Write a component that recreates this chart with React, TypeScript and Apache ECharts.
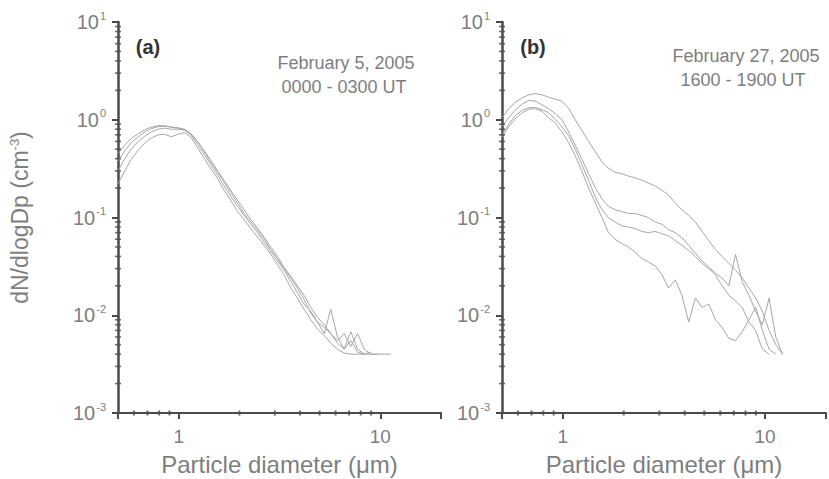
import React, { useEffect, useRef } from "react";
import * as echarts from "echarts";

const diameters = [0.5, 0.54, 0.58, 0.63, 0.68, 0.73, 0.79, 0.85, 0.92, 0.99, 1.07, 1.15, 1.24, 1.34, 1.45, 1.56, 1.68, 1.81, 1.96, 2.11, 2.28, 2.46, 2.65, 2.86, 3.09, 3.33, 3.6, 3.88, 4.19, 4.52, 4.88, 5.27, 5.68, 6.13, 6.62, 7.14, 7.71, 8.32, 8.98, 9.69, 10.46, 11.29, 12.18];

// Panel (a): February 5, 2005, 0000 - 0300 UT
const a1 = [0.22, 0.30, 0.39, 0.49, 0.58, 0.65, 0.70, 0.71, 0.67, 0.71, 0.74, 0.66, 0.52, 0.40, 0.31, 0.25, 0.19, 0.15, 0.115, 0.095, 0.077, 0.063, 0.052, 0.042, 0.033, 0.026, 0.019, 0.015, 0.0115, 0.009, 0.0072, 0.0062, 0.0052, 0.0045, 0.0041, 0.004, 0.004, 0.004, 0.004, 0.004, 0.004, 0.004, null];
const a2 = [0.30, 0.40, 0.50, 0.60, 0.68, 0.75, 0.80, 0.82, 0.80, 0.80, 0.79, 0.70, 0.56, 0.44, 0.34, 0.27, 0.21, 0.165, 0.13, 0.105, 0.085, 0.07, 0.056, 0.045, 0.036, 0.029, 0.022, 0.017, 0.013, 0.011, 0.0085, 0.0075, 0.0065, 0.0052, 0.0045, 0.0055, 0.0042, 0.004, null, null, null, null, null];
const a3 = [0.38, 0.48, 0.58, 0.67, 0.75, 0.81, 0.85, 0.86, 0.84, 0.83, 0.80, 0.72, 0.60, 0.47, 0.36, 0.29, 0.23, 0.18, 0.14, 0.11, 0.09, 0.074, 0.06, 0.047, 0.038, 0.03, 0.024, 0.019, 0.0145, 0.0105, 0.0085, 0.0065, 0.0115, 0.006, 0.0045, 0.0068, 0.0045, 0.004, 0.0042, null, null, null, null];
const a4 = [0.45, 0.55, 0.64, 0.72, 0.79, 0.84, 0.87, 0.87, 0.84, 0.82, 0.78, 0.71, 0.60, 0.48, 0.38, 0.30, 0.24, 0.19, 0.15, 0.12, 0.095, 0.078, 0.063, 0.05, 0.04, 0.031, 0.025, 0.020, 0.016, 0.012, 0.0095, 0.008, 0.0065, 0.0055, 0.0065, 0.0048, 0.0065, 0.0045, 0.004, 0.004, null, null, null];

// Panel (b): February 27, 2005, 1600 - 1900 UT
const b1 = [1.05, 1.3, 1.5, 1.68, 1.8, 1.85, 1.8, 1.7, 1.62, 1.55, 1.3, 1.0, 0.78, 0.6, 0.47, 0.37, 0.32, 0.29, 0.28, 0.265, 0.255, 0.24, 0.225, 0.21, 0.19, 0.17, 0.14, 0.12, 0.105, 0.09, 0.072, 0.058, 0.047, 0.04, 0.034, 0.029, 0.024, 0.019, 0.015, 0.011, 0.007, 0.005, 0.004];
const b2 = [0.85, 1.05, 1.25, 1.45, 1.58, 1.55, 1.42, 1.3, 1.15, 1.0, 0.75, 0.55, 0.4, 0.28, 0.2, 0.155, 0.13, 0.12, 0.115, 0.11, 0.11, 0.105, 0.1, 0.09, 0.085, 0.075, 0.07, 0.062, 0.052, 0.043, 0.036, 0.031, 0.027, 0.024, 0.02, 0.042, 0.022, 0.016, 0.011, 0.008, 0.015, 0.006, 0.004];
const b3 = [0.7, 0.9, 1.1, 1.25, 1.33, 1.33, 1.27, 1.18, 1.0, 0.85, 0.68, 0.5, 0.35, 0.24, 0.16, 0.12, 0.1, 0.09, 0.082, 0.08, 0.077, 0.072, 0.07, 0.072, 0.068, 0.065, 0.058, 0.052, 0.046, 0.04, 0.034, 0.03, 0.026, 0.02, 0.016, 0.014, 0.012, 0.0085, 0.007, 0.0045, 0.004, null, null];
const b4 = [0.66, 0.85, 1.02, 1.18, 1.28, 1.3, 1.22, 1.05, 0.92, 0.75, 0.58, 0.43, 0.3, 0.2, 0.14, 0.1, 0.07, 0.06, 0.054, 0.05, 0.044, 0.038, 0.035, 0.032, 0.026, 0.019, 0.023, 0.016, 0.0085, 0.015, 0.012, 0.013, 0.009, 0.0075, 0.0058, 0.0055, 0.0068, 0.009, 0.012, 0.007, 0.0045, 0.004, null];

const panelA = [a1, a2, a3, a4];
const panelB = [b1, b2, b3, b4];

const xMinorTicks = [0.6, 0.7, 0.8, 0.9, 2, 3, 4, 5, 6, 7, 8, 9];
const yMinorTicks = [0.002, 0.003, 0.004, 0.005, 0.006, 0.007, 0.008, 0.009, 0.02, 0.03, 0.04, 0.05, 0.06, 0.07, 0.08, 0.09, 0.2, 0.3, 0.4, 0.5, 0.6, 0.7, 0.8, 0.9, 2, 3, 4, 5, 6, 7, 8, 9];

const X_MIN = 0.5;
const X_MAX = 20;
const Y_MIN = 0.001;
const Y_MAX = 10;

const FONT = "Liberation Sans, Arial, sans-serif";
const AXIS_COLOR = "#4a4a4a";
const TEXT_GREY = "#7e7e7e";
const LINE_GREY = "#a6a6a6";

function isDecade(v: number) {
  const l = Math.log10(v);
  return Math.abs(l - Math.round(l)) < 1e-6;
}

export default function App() {
  const ref = useRef<HTMLDivElement>(null);
  useEffect(() => {
    if (!ref.current) return;
    const chart = echarts.init(ref.current, null, { renderer: "svg" });

    const grids = [
      { left: 118, top: 22, width: 323, height: 391, outerBoundsMode: "none", containLabel: false },
      { left: 502, top: 22, width: 324, height: 391, outerBoundsMode: "none", containLabel: false },
    ];

    const xAxes = [0, 1].map((i) => ({
      type: "log",
      logBase: 10,
      gridIndex: i,
      min: X_MIN,
      max: X_MAX,
      name: "Particle diameter (\u03bcm)",
      nameLocation: "middle",
      nameGap: 39,
      nameTextStyle: { fontFamily: FONT, fontSize: 24, color: TEXT_GREY },
      axisLine: { show: true, lineStyle: { color: AXIS_COLOR, width: 2 } },
      axisTick: { show: true, inside: false, length: 6, lineStyle: { color: AXIS_COLOR, width: 2 } },
      axisLabel: {
        fontFamily: FONT,
        fontSize: 19,
        color: TEXT_GREY,
        margin: 14,
        showMinLabel: true,
        showMaxLabel: true,
        formatter: (v: number) => (isDecade(v) ? String(Math.round(v)) : ""),
      },
      splitLine: { show: false },
    }));

    const yAxes = [0, 1].map((i) => ({
      type: "log",
      logBase: 10,
      gridIndex: i,
      min: Y_MIN,
      max: Y_MAX,
      name: i === 0 ? "dN/dlogDp (cm{s|-3})" : "",
      nameLocation: "middle",
      nameGap: 86,
      nameRotate: 90,
      nameTextStyle: {
        fontFamily: FONT,
        fontSize: 23,
        color: TEXT_GREY,
        rich: {
          s: { fontFamily: FONT, fontSize: 13, color: TEXT_GREY, verticalAlign: "top", lineHeight: 24 },
        },
      },
      axisLine: { show: true, lineStyle: { color: AXIS_COLOR, width: 2.5 } },
      axisTick: { show: true, inside: false, length: 6, lineStyle: { color: AXIS_COLOR, width: 2 } },
      axisLabel: {
        margin: 12,
        formatter: (v: number) => {
          const e = Math.round(Math.log10(v));
          return `{b|10}{s|${e}}`;
        },
        rich: {
          b: { fontFamily: FONT, fontSize: 20, color: TEXT_GREY, lineHeight: 24 },
          s: { fontFamily: FONT, fontSize: 11, color: TEXT_GREY, verticalAlign: "top", lineHeight: 24, padding: [0, 0, 0, 1] },
        },
      },
      splitLine: { show: false },
    }));

    const curveSeries: any[] = [];
    [panelA, panelB].forEach((panel, gi) => {
      panel.forEach((vals, k) => {
        curveSeries.push({
          type: "line",
          name: `${gi === 0 ? "a" : "b"}${k + 1}`,
          xAxisIndex: gi,
          yAxisIndex: gi,
          data: diameters.map((d, j) => [d, vals[j]]).filter((p) => p[1] != null),
          showSymbol: false,
          symbol: "none",
          lineStyle: { color: LINE_GREY, width: 1 },
          silent: true,
          z: 2,
        });
      });
    });

    const tickSeries: any[] = [];
    [0, 1].forEach((gi) => {
      tickSeries.push({
        type: "scatter",
        xAxisIndex: gi,
        yAxisIndex: gi,
        data: xMinorTicks.map((x) => [x, Y_MIN]),
        symbol: "rect",
        symbolSize: [2, 5],
        itemStyle: { color: AXIS_COLOR },
        clip: false,
        silent: true,
        z: 5,
      });
      tickSeries.push({
        type: "scatter",
        xAxisIndex: gi,
        yAxisIndex: gi,
        data: yMinorTicks.map((y) => [X_MIN, y]),
        symbol: "rect",
        symbolSize: [6, 1.6],
        itemStyle: { color: AXIS_COLOR },
        clip: false,
        silent: true,
        z: 5,
      });
    });

    const textStyle = (text: string, bold = false, size = 19, color = TEXT_GREY) => ({
      text,
      fontFamily: FONT,
      fontSize: size,
      fontWeight: bold ? "bold" : "normal",
      fill: color,
      textAlign: "center",
      textVerticalAlign: "middle",
      align: "center",
      verticalAlign: "middle",
    });

    chart.setOption({
      animation: false,
      backgroundColor: "#ffffff",
      grid: grids,
      xAxis: xAxes,
      yAxis: yAxes,
      series: [...curveSeries, ...tickSeries],
      graphic: [
        { type: "text", x: 148, y: 47, style: textStyle("(a)", true, 20, "#333333") },
        { type: "text", x: 346, y: 63, style: textStyle("February 5, 2005", false, 18) },
        { type: "text", x: 344, y: 87, style: textStyle("0000 - 0300 UT", false, 18) },
        { type: "text", x: 533, y: 47, style: textStyle("(b)", true, 20, "#333333") },
        { type: "text", x: 746, y: 56, style: textStyle("February 27, 2005", false, 18) },
        { type: "text", x: 743, y: 80, style: textStyle("1600 - 1900 UT", false, 18) },
      ],
    });

    return () => chart.dispose();
  }, []);

  return (
    <div
      ref={ref}
      style={{ position: "absolute", left: 0, top: 0, width: 829, height: 479, background: "#fff" }}
    />
  );
}
